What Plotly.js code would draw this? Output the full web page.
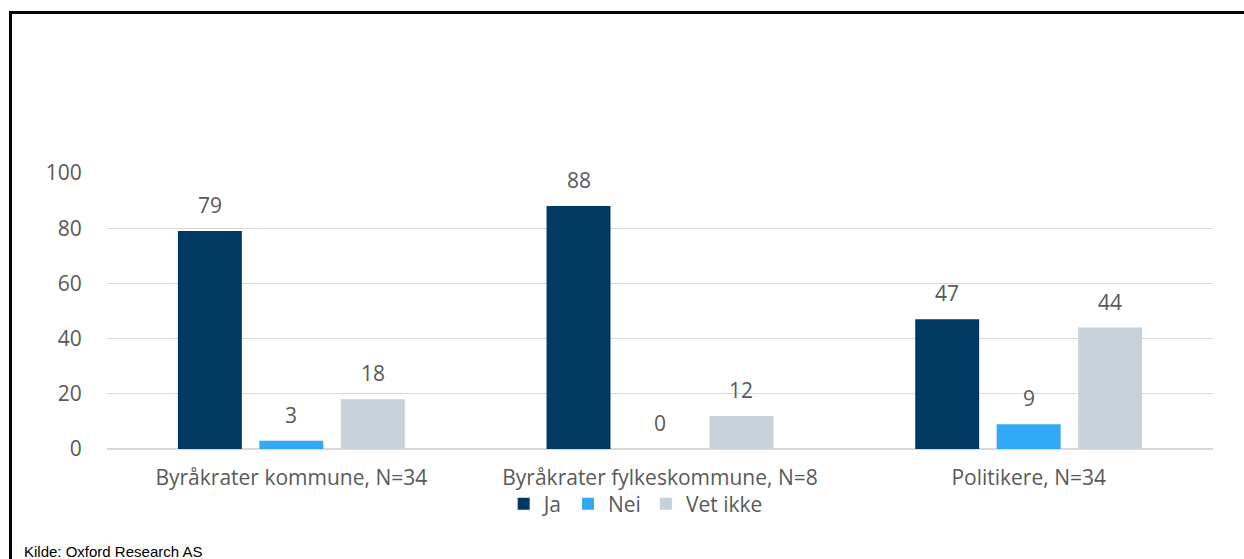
<!DOCTYPE html>
<html>
<head>
<meta charset="utf-8">
<script src="https://cdn.plot.ly/plotly-3.0.1.min.js"></script>
<style>
html,body{margin:0;padding:0;background:#fff;overflow:hidden;}
#wrap{position:relative;width:1244px;height:559px;}
#chart{position:absolute;left:0;top:0;width:1244px;height:559px;}
#frame{position:absolute;left:9px;top:11px;width:1300px;height:600px;border:3px solid #000;pointer-events:none;}
</style>
</head>
<body>
<div id="wrap">
<div id="chart"></div>
<div id="frame"></div>
</div>
<script>
const categories = ["Byråkrater kommune, N=34", "Byråkrater fylkeskommune, N=8", "Politikere, N=34"];
const seriesNames = ["Ja", "Nei", "Vet ikke"];
const ja = [79, 88, 47];
const nei = [3, 0, 9];
const vetIkke = [18, 12, 44];
const yTicks = [0, 20, 40, 60, 80, 100];
const sourceText = "Kilde: Oxford Research AS";

const colors = ["#003A63", "#33A9F5", "#C6D1D9"];
const values = [ja, nei, vetIkke];
const font = "'Open Sans', sans-serif";
const textColor = "#595959";
const fs = 21;

const traces = values.map((v, i) => ({
  type: "bar",
  name: seriesNames[i],
  x: categories,
  y: v,
  marker: {color: colors[i]},
  hoverinfo: "none"
}));

const slot = 0.221;
const annotations = [];
values.forEach((v, i) => {
  v.forEach((val, j) => {
    annotations.push({
      x: j + (i - 1) * slot, y: val, xref: "x", yref: "y",
      text: String(val), showarrow: false, yanchor: "middle", yshift: 26,
      font: {family: font, size: fs, color: textColor}
    });
  });
});
annotations.push({
  x: -0.077, y: -0.37, xref: "paper", yref: "paper", xanchor: "left", yanchor: "middle",
  text: sourceText, showarrow: false,
  font: {family: "'Liberation Sans Narrow', 'Liberation Sans', Arial, sans-serif", size: 15, color: "#000"}
});

const layout = {
  width: 1244, height: 559,
  margin: {l: 107, r: 31, t: 173, b: 110},
  paper_bgcolor: "#fff", plot_bgcolor: "#fff",
  barmode: "group", bargap: 0.337, bargroupgap: 0.215,
  showlegend: true,
  legend: {
    orientation: "h", x: 0.478, xanchor: "center", y: -0.2, yanchor: "middle",
    font: {family: font, size: fs, color: textColor},
    bgcolor: "rgba(0,0,0,0)",
    itemwidth: 30, traceorder: "normal"
  },
  xaxis: {
    type: "category",
    tickfont: {family: font, size: fs, color: textColor},
    ticks: "outside", ticklen: 10, tickcolor: "rgba(0,0,0,0)",
    showline: false, showgrid: false
  },
  yaxis: {
    range: [0, 100], tickvals: yTicks,
    tickfont: {family: font, size: fs, color: textColor},
    ticks: "outside", ticklen: 20, tickcolor: "rgba(0,0,0,0)",
    showgrid: true, gridcolor: "#D9D9D9", gridwidth: 1.3,
    zeroline: true, zerolinecolor: "#D9D9D9", zerolinewidth: 1.3,
    showline: false
  },
  annotations: annotations
};

Plotly.newPlot("chart", traces, layout, {displayModeBar: false, staticPlot: true});
</script>
</body>
</html>
